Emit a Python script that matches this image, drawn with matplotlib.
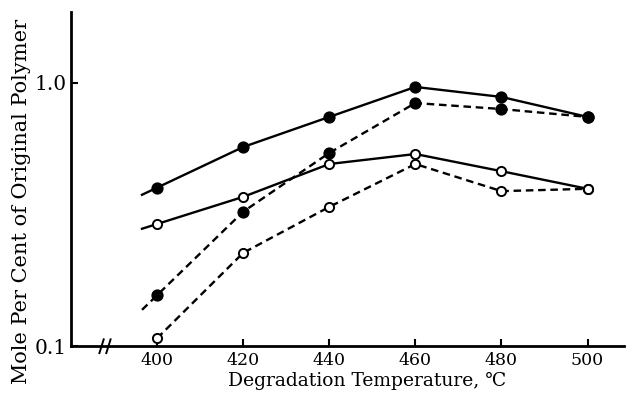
import numpy as np
import matplotlib.pyplot as plt

# degradation temperatures (deg C)
temps = [400, 420, 440, 460, 480, 500]

# mole per cent of original polymer, four runs
filled_solid = [0.40, 0.571, 0.743, 0.966, 0.885, 0.743]
filled_dashed = [0.156, 0.324, 0.542, 0.839, 0.796, 0.743]
open_solid = [0.291, 0.369, 0.492, 0.537, 0.462, 0.396]
open_dashed = [0.107, 0.226, 0.338, 0.492, 0.388, 0.396]

xticks = [400, 420, 440, 460, 480, 500]
yticks = [0.1, 1.0]
ytick_labels = ["0.1", "1.0"]

plt.rcParams['font.family'] = ['DejaVu Serif', 'DejaVu Sans']

fig = plt.figure(figsize=(6.26, 4.03), dpi=100)
ax = fig.add_axes([0.1134, 0.1414, 0.8836, 0.8286])


def lead_in(x, y, start=396.5):
    # extend the curve a little to the left of the first point (log-linear)
    slope = (np.log10(y[1]) - np.log10(y[0])) / (x[1] - x[0])
    y0 = 10 ** (np.log10(y[0]) + slope * (start - x[0]))
    return [start] + list(x), [y0] + list(y)


dashed = (0, (3.2, 2.0))
series = [
    (filled_solid, '-', 'black', 7.4, True),
    (filled_dashed, dashed, 'black', 7.4, True),
    (open_solid, '-', 'white', 6.6, True),
    (open_dashed, dashed, 'white', 6.6, False),
]
for vals, ls, face, size, extend in series:
    lx, ly = lead_in(temps, vals) if extend else (temps, vals)
    ax.plot(lx, ly, color='black', lw=1.7, linestyle=ls, zorder=2)
    ax.plot(temps, vals, linestyle='none', marker='o', ms=size,
            mfc=face, mec='black', mew=1.4, zorder=3)

ax.set_yscale('log')
ax.set_xlim(380, 508.5)
ax.set_ylim(0.1, 1.86)
ax.set_xticks(xticks)
ax.set_xticklabels([str(t) for t in xticks], fontsize=12.5)
ax.set_yticks(yticks)
ax.set_yticklabels(ytick_labels, fontsize=14.5)
ax.yaxis.set_minor_locator(plt.NullLocator())
ax.tick_params(direction='in', length=5, width=1.5, pad=4)
ax.tick_params(axis='y', pad=3)

for side in ['top', 'right']:
    ax.spines[side].set_visible(False)
for side in ['left', 'bottom']:
    ax.spines[side].set_linewidth(2)

# axis break marks on the temperature axis
for dx in (-1.0, 0.6):
    ax.plot([387.6 + dx, 388.6 + dx], [0.094, 0.106], color='black', lw=1.4,
            clip_on=False, zorder=4)

fig.text(0.587, 0.032, "Degradation Temperature, ℃", fontsize=13.5,
         ha='center', va='bottom')
fig.text(0.034, 0.50, "Mole Per Cent of Original Polymer", fontsize=15,
         rotation=90, ha='center', va='center')

fig.savefig('out.png', dpi=100)
